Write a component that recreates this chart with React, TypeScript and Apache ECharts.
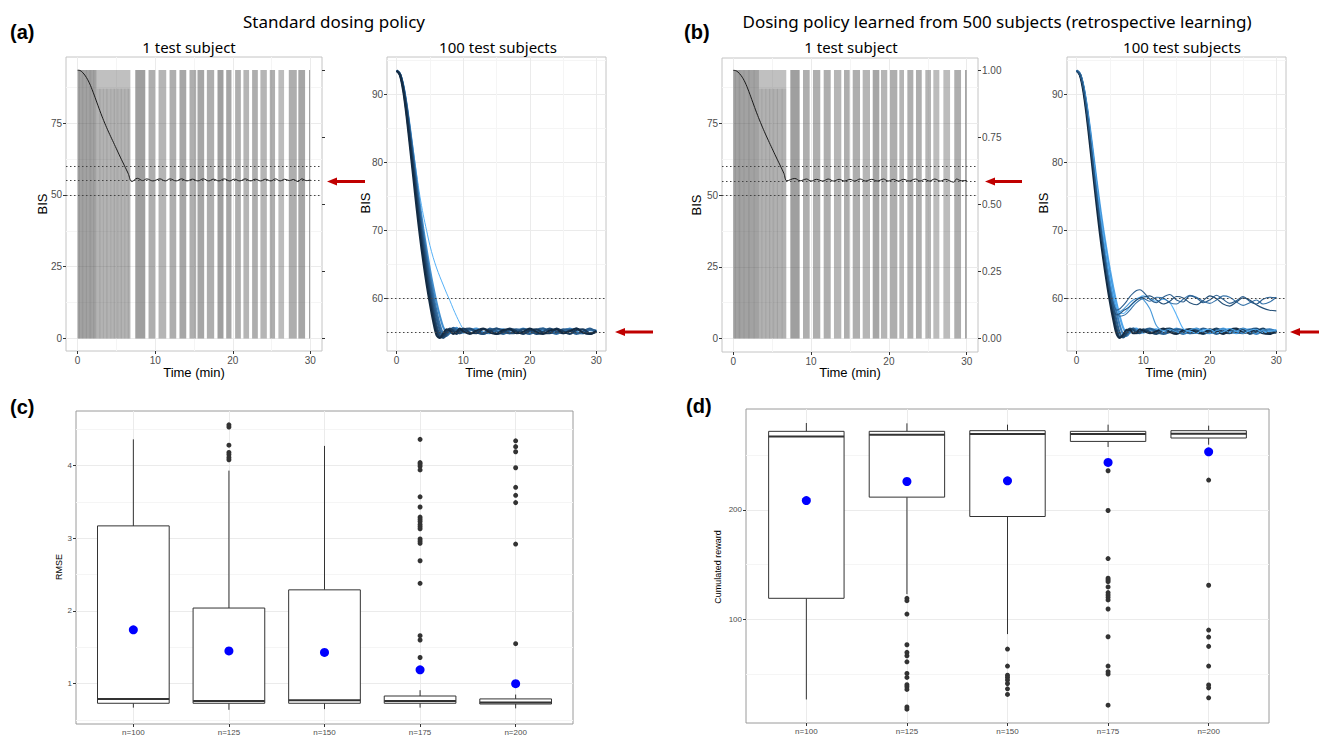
import React, { useEffect, useRef } from "react";
import * as echarts from "echarts";

// ---------------- DATA ----------------
const TIME_100 = [0, 0.5, 1, 1.5, 2, 2.5, 3, 3.5, 4, 4.5, 5, 5.5, 6, 6.5, 7, 7.5, 8, 8.5, 9, 9.5, 10, 11, 12, 13, 14, 15, 16, 17, 18, 19, 20, 21, 22, 23, 24, 25, 26, 27, 28, 29, 30];

// (a) 100 test subjects – standard policy
const A_LINE_COLORS = ["#56B1F7", "#4590CF", "#3673A9", "#2B5E8E", "#224B73", "#1A3A5A", "#132B43"];
const A_LINES = [
  [93.5, 93.0, 91.3, 88.6, 85.3, 81.8, 78.3, 75.0, 72.3, 70.0, 67.8, 66.0, 64.5, 63.2, 62.0, 60.8, 59.7, 58.5, 57.4, 56.4, 55.6,
    55.3, 55.5, 55.1, 55.0, 55.4, 55.3, 55.0, 55.2, 55.5, 55.1, 55.0, 55.4, 55.3, 54.9, 55.2, 55.5, 55.1, 55.0, 55.3, 55.2],
  [93.5, 93.0, 91.3, 88.5, 85.0, 81.2, 77.4, 73.7, 70.3, 67.2, 64.3, 61.7, 59.4, 57.4, 55.8, 55.0, 54.9, 55.4, 55.7, 55.3, 55.0,
    55.3, 55.6, 55.0, 54.9, 55.4, 55.5, 55.0, 55.1, 55.6, 55.2, 54.9, 55.3, 55.5, 55.0, 55.2, 55.6, 55.1, 54.9, 55.4, 55.2],
  [93.5, 93.0, 91.2, 88.3, 84.6, 80.7, 76.7, 72.9, 69.4, 66.2, 63.2, 60.5, 58.1, 56.1, 54.8, 54.5, 55.0, 55.6, 55.5, 55.0, 55.1,
    55.5, 55.2, 54.8, 55.3, 55.6, 55.1, 54.9, 55.4, 55.5, 54.9, 55.1, 55.6, 55.2, 54.8, 55.3, 55.5, 55.0, 54.9, 55.4, 55.3],
  [93.5, 93.0, 91.1, 88.1, 84.3, 80.2, 76.1, 72.2, 68.6, 65.3, 62.2, 59.5, 57.1, 55.3, 54.4, 54.6, 55.3, 55.7, 55.3, 54.9, 55.2,
    55.5, 55.0, 54.9, 55.6, 55.2, 54.8, 55.3, 55.5, 55.1, 54.8, 55.4, 55.6, 55.0, 54.9, 55.5, 55.3, 54.8, 55.2, 55.6, 55.1],
  [93.5, 93.0, 91.0, 87.8, 83.8, 79.6, 75.3, 71.3, 67.6, 64.2, 61.1, 58.4, 56.0, 54.6, 54.2, 54.8, 55.5, 55.4, 55.0, 54.9, 55.4,
    55.6, 55.1, 54.8, 55.2, 55.6, 55.3, 54.9, 55.0, 55.5, 55.4, 54.8, 55.1, 55.6, 55.2, 54.9, 55.3, 55.6, 55.0, 54.8, 55.3],
  [93.5, 92.9, 90.8, 87.3, 83.1, 78.8, 74.4, 70.3, 66.6, 63.2, 60.2, 57.5, 55.3, 54.3, 54.5, 55.2, 55.6, 55.2, 54.8, 55.3, 55.6,
    55.0, 54.9, 55.5, 55.3, 54.8, 55.1, 55.6, 55.2, 54.8, 55.3, 55.5, 55.0, 54.9, 55.6, 55.2, 54.8, 55.4, 55.5, 54.9, 55.1],
  [93.5, 92.8, 90.4, 86.7, 82.3, 77.8, 73.3, 69.1, 65.4, 62.1, 59.2, 56.6, 54.6, 54.2, 54.9, 55.5, 55.3, 54.8, 55.1, 55.6, 55.2,
    54.8, 55.3, 55.6, 55.0, 54.8, 55.4, 55.5, 54.9, 55.1, 55.6, 55.1, 54.8, 55.3, 55.5, 54.9, 55.2, 55.6, 55.0, 54.8, 55.2],
];

// (b) 100 test subjects – learned policy
const B_LINE_COLORS = ["#56B1F7", "#4FA5EA", "#4A9AD9", "#3B80BD", "#3673A9", "#2B5E8E", "#2A5F8F", "#245078", "#1D4466", "#132B43"];
const B_LINE_HIGH = [true, false, true, false, true, true, false, true, false, false];
const B_LINES = [
  [93.5, 93.0, 91.3, 88.4, 84.8, 80.8, 76.8, 73.0, 69.5, 66.3, 63.3, 60.7, 58.8, 58.0, 57.8, 58.2, 58.8, 59.3, 59.8, 60.2, 60.4,
    60.0, 59.6, 59.9, 59.4, 57.6, 55.6, 55.2, 54.9, 55.4, 55.5, 55.0, 55.1, 55.6, 55.2, 54.9, 55.3, 55.5, 55.0, 55.2, 55.4],
  [93.5, 93.0, 91.3, 88.5, 85.0, 81.2, 77.3, 73.6, 70.2, 67.1, 64.2, 61.6, 59.3, 57.3, 55.7, 55.0, 55.0, 55.5, 55.6, 55.2, 55.0,
    55.4, 55.5, 55.0, 55.1, 55.6, 55.2, 54.9, 55.3, 55.5, 55.0, 55.1, 55.6, 55.3, 54.9, 55.2, 55.5, 55.1, 55.0, 55.4, 55.3],
  [93.5, 93.0, 91.2, 88.2, 84.4, 80.3, 76.2, 72.3, 68.7, 65.4, 62.4, 59.9, 58.4, 58.1, 58.4, 58.9, 59.4, 59.8, 60.0, 60.1, 59.9,
    58.5, 56.0, 55.3, 55.5, 55.1, 54.9, 55.4, 55.6, 55.1, 54.9, 55.3, 55.5, 55.0, 55.2, 55.6, 55.1, 54.9, 55.4, 55.3, 55.2],
  [93.5, 93.0, 91.2, 88.3, 84.6, 80.6, 76.6, 72.8, 69.3, 66.1, 63.1, 60.4, 58.0, 56.0, 54.7, 54.5, 55.1, 55.6, 55.4, 55.0, 55.2,
    55.5, 55.0, 54.9, 55.5, 55.3, 54.8, 55.2, 55.6, 55.1, 54.9, 55.4, 55.5, 55.0, 55.1, 55.6, 55.2, 54.8, 55.3, 55.5, 55.1],
  [93.5, 93.0, 91.1, 88.0, 84.1, 79.9, 75.7, 71.7, 68.0, 64.7, 61.8, 59.4, 57.9, 57.4, 57.5, 57.8, 58.3, 58.9, 59.4, 59.8, 60.0,
    59.6, 60.2, 60.1, 59.4, 59.2, 59.9, 60.5, 60.2, 59.6, 59.3, 59.8, 60.4, 60.2, 59.5, 59.0, 59.4, 59.8, 59.2, 59.5, 60.2],
  [93.5, 93.0, 91.0, 87.8, 83.8, 79.6, 75.3, 71.3, 67.6, 64.3, 61.4, 59.3, 58.3, 58.5, 59.0, 59.6, 60.3, 60.8, 61.2, 61.3, 61.0,
    59.9, 59.4, 60.2, 60.6, 59.8, 59.5, 60.4, 60.1, 59.4, 59.8, 60.5, 59.9, 59.3, 59.7, 60.3, 59.6, 59.2, 59.9, 60.2, 60.1],
  [93.5, 93.0, 91.1, 88.0, 84.1, 79.9, 75.8, 71.9, 68.3, 65.0, 61.9, 59.1, 56.7, 54.9, 54.3, 54.7, 55.4, 55.6, 55.1, 54.9, 55.3,
    55.6, 55.2, 54.8, 55.1, 55.5, 55.4, 54.9, 55.0, 55.6, 55.3, 54.8, 55.2, 55.5, 55.1, 54.9, 55.4, 55.6, 55.0, 54.9, 55.3],
  [93.5, 92.9, 90.9, 87.6, 83.5, 79.2, 74.9, 70.9, 67.2, 63.8, 60.9, 58.6, 57.6, 57.8, 58.2, 58.5, 58.9, 59.4, 59.8, 60.1, 60.2,
    60.4, 59.8, 59.2, 59.6, 60.3, 60.1, 59.4, 59.1, 59.7, 60.4, 60.0, 59.2, 58.9, 59.5, 60.1, 59.8, 59.1, 58.6, 58.3, 58.2],
  [93.5, 92.9, 90.9, 87.5, 83.4, 79.1, 74.8, 70.8, 67.1, 63.7, 60.7, 57.9, 55.6, 54.4, 54.4, 55.0, 55.6, 55.4, 54.9, 55.1, 55.5,
    55.1, 54.8, 55.4, 55.6, 55.0, 54.9, 55.5, 55.3, 54.8, 55.2, 55.6, 55.1, 54.9, 55.4, 55.5, 54.8, 55.2, 55.6, 55.0, 55.0],
  [93.5, 92.8, 90.5, 86.9, 82.6, 78.1, 73.7, 69.5, 65.8, 62.5, 59.5, 56.9, 54.8, 54.2, 54.7, 55.4, 55.4, 54.9, 55.0, 55.5, 55.3,
    54.9, 55.2, 55.6, 55.1, 54.8, 55.3, 55.5, 55.0, 54.9, 55.5, 55.2, 54.8, 55.4, 55.6, 55.0, 55.1, 55.5, 54.9, 54.8, 55.3],
];

// 1 test subject – BIS trajectories
const A_ONE_T = [0, 0.3, 0.6, 1, 1.5, 2, 2.5, 3, 3.5, 4, 4.5, 5, 5.5, 6, 6.5, 7.0, 7.7, 8.4, 8.9, 9.7, 10.6, 11.3, 11.9, 12.7, 13.4, 14.1, 14.8, 15.5, 16.2, 16.9, 17.5, 18.2, 18.9, 19.6, 20.2, 20.9, 21.6, 22.3, 22.9, 23.6, 24.2, 24.9, 25.5, 26.1, 26.7, 27.3, 27.8, 28.4, 28.9, 29.5, 30];
const A_ONE_BIS = [93.5, 93.4, 92.8, 91.5, 89.1, 85.8, 82.1, 78.4, 75.0, 71.9, 69.0, 66.1, 63.2, 60.4, 57.6, 54.7, 55.8, 55.0, 55.6, 54.9, 55.6, 54.9, 55.6, 54.9, 55.6, 54.9, 55.5, 54.9, 55.6, 54.9, 55.5, 54.9, 55.6, 54.9, 55.5, 54.9, 55.6, 54.9, 55.5, 54.9, 55.5, 54.9, 55.6, 54.9, 55.5, 55.0, 55.4, 54.7, 55.6, 55.0, 55.2];
const B_ONE_T = [0, 0.3, 0.6, 1, 1.5, 2, 2.5, 3, 3.5, 4, 4.5, 5, 5.5, 6, 6.5, 6.9, 7.9, 8.6, 9.4, 10.0, 10.7, 11.5, 12.2, 12.9, 13.6, 14.3, 15.0, 15.6, 16.3, 17.0, 17.8, 18.5, 19.3, 19.9, 20.6, 21.2, 21.9, 22.6, 23.4, 24.0, 24.6, 25.2, 25.9, 26.6, 27.3, 27.8, 28.3, 28.7, 29.3, 30];
const B_ONE_BIS = [93.5, 93.4, 92.9, 91.7, 89.4, 86.1, 82.4, 78.7, 75.3, 72.1, 69.1, 66.2, 63.3, 60.5, 57.6, 55.0, 55.8, 55.0, 55.6, 54.9, 55.5, 54.9, 55.6, 54.9, 55.5, 54.9, 55.5, 54.9, 55.6, 54.9, 55.5, 54.9, 55.6, 54.9, 55.5, 54.9, 55.5, 54.9, 55.6, 54.9, 55.5, 54.9, 55.6, 54.9, 55.5, 55.0, 54.5, 55.6, 55.0, 55.1];

// dosing bars: [start (min), end (min), height on dose axis, opacity]
const A_DOSE_BARS = [
  [0, 2.45, 1, 0.5], [2.45, 6.8, 1, 0.34], [2.45, 6.8, 0.93, 0.1],
  [0.15, 0.3, 1, 0.12], [0.55, 0.75, 1, 0.1], [1.05, 1.2, 1, 0.12], [1.5, 1.75, 1, 0.1], [2.0, 2.15, 1, 0.12],
  [2.8, 2.95, 0.93, 0.14], [3.25, 3.4, 0.93, 0.1], [3.7, 3.85, 0.93, 0.14], [4.2, 4.35, 0.93, 0.1], [4.65, 4.8, 0.93, 0.14],
  [5.1, 5.25, 0.93, 0.1], [5.55, 5.7, 0.93, 0.14], [6.0, 6.15, 0.93, 0.1], [6.45, 6.6, 0.93, 0.14],
  [7.43, 8.72, 1, 0.52], [9.14, 10.0, 1, 0.44], [10.43, 11.42, 1, 0.4], [11.85, 12.71, 1, 0.44], [13.13, 14.0, 1, 0.48],
  [14.42, 15.28, 1, 0.44], [15.45, 16.31, 1, 0.48], [16.66, 17.6, 1, 0.44], [18.03, 18.8, 1, 0.52], [19.15, 19.83, 1, 0.48],
  [20.3, 21.04, 1, 0.44], [21.37, 22.1, 1, 0.4], [22.49, 23.23, 1, 0.44], [23.56, 24.39, 1, 0.4], [24.77, 25.45, 1, 0.44],
  [25.88, 26.61, 1, 0.36], [27.22, 28.25, 1, 0.44], [28.45, 29.32, 1, 0.48], [29.83, 29.96, 1, 0.52],
];
const B_DOSE_BARS = [
  [0, 3.3, 1, 0.5], [3.3, 6.81, 1, 0.34], [3.3, 6.81, 0.93, 0.12],
  [0.2, 0.35, 1, 0.1], [0.7, 0.9, 1, 0.12], [1.3, 1.45, 1, 0.1], [1.9, 2.1, 1, 0.12], [2.6, 2.75, 1, 0.1],
  [3.6, 3.75, 0.93, 0.12], [4.1, 4.25, 0.93, 0.1], [4.6, 4.75, 0.93, 0.14], [5.1, 5.25, 0.93, 0.1], [5.6, 5.75, 0.93, 0.14], [6.2, 6.35, 0.93, 0.12],
  [7.33, 8.53, 1, 0.52], [8.96, 9.82, 1, 0.44], [10.24, 11.18, 1, 0.44], [11.62, 12.52, 1, 0.44], [12.94, 13.88, 1, 0.4],
  [14.23, 14.96, 1, 0.44], [15.35, 16.29, 1, 0.44], [16.63, 17.57, 1, 0.4], [17.92, 18.77, 1, 0.48], [18.98, 19.79, 1, 0.4],
  [20.14, 21.08, 1, 0.44], [21.34, 21.94, 1, 0.4], [22.37, 23.14, 1, 0.44], [23.48, 24.22, 1, 0.44], [24.68, 25.41, 1, 0.4],
  [25.71, 26.48, 1, 0.36], [27.0, 27.86, 1, 0.36], [28.4, 29.27, 1, 0.44], [29.78, 30.0, 1, 0.48],
];
const DOSE_FULL_BIS = 93.6; // BIS value that matches a dose of 1.00

const A_REF_LINES = [60, 55, 50];
const B_REF_LINES = [60, 55];

// (c) / (d) boxplots: [lower whisker, Q1, median, Q3, upper whisker]
const BOX_CATEGORIES = ["n=100", "n=125", "n=150", "n=175", "n=200"];
const RMSE_BOX = [
  [0.67, 0.73, 0.79, 3.17, 4.36],
  [0.64, 0.73, 0.76, 2.04, 3.93],
  [0.65, 0.73, 0.77, 2.29, 4.27],
  [0.67, 0.73, 0.76, 0.83, 0.91],
  [0.66, 0.72, 0.74, 0.79, 0.85],
];
const RMSE_MEAN = [1.74, 1.45, 1.43, 1.19, 1.0];
const RMSE_OUTLIERS = [
  [],
  [4.56, 4.53, 4.28, 4.18, 4.15, 4.11, 4.08],
  [],
  [4.36, 4.04, 4.02, 3.99, 3.94, 3.57, 3.43, 3.29, 3.26, 3.23, 3.19, 3.16, 3.13, 2.99, 2.96, 2.93, 2.69, 2.38, 1.66, 1.6, 1.36],
  [4.34, 4.26, 4.19, 3.97, 3.7, 3.59, 3.49, 2.92, 1.55],
];
const REWARD_BOX = [
  [26.8, 119.2, 267.0, 271.7, 279.3],
  [123.0, 211.6, 268.6, 271.7, 279.0],
  [86.5, 193.9, 269.2, 272.3, 277.8],
  [257.4, 262.5, 269.2, 271.7, 277.8],
  [259.5, 265.6, 269.5, 272.3, 276.9],
];
const REWARD_MEAN = [208.5, 225.9, 226.5, 243.3, 253.0];
const REWARD_OUTLIERS = [
  [],
  [119.2, 117.0, 104.8, 76.8, 69.8, 66.7, 61.2, 50.6, 46.9, 40.2, 38.4, 36.0, 20.0, 17.9],
  [72.8, 57.3, 49.0, 46.9, 44.5, 41.4, 36.5, 31.4],
  [235.7, 199.4, 155.5, 137.5, 136.0, 134.4, 129.6, 124.4, 122.2, 120.1, 117.7, 109.4, 84.1, 57.3, 52.1, 50.0, 21.6],
  [227.2, 131.1, 90.2, 83.8, 75.3, 57.3, 40.0, 37.4, 28.3],
];

// tick values
const TIME_TICKS = [0, 10, 20, 30];
const TIME_MINOR = [5, 15, 25];
const BIS_ONE_TICKS = [0, 25, 50, 75];
const BIS_ONE_MINOR = [12.5, 37.5, 62.5, 87.5];
const BIS_100_TICKS = [60, 70, 80, 90];
const BIS_100_MINOR = [55, 65, 75, 85, 95];
const DOSE_TICKS = [0, 0.25, 0.5, 0.75, 1];
const RMSE_TICKS = [1, 2, 3, 4];
const RMSE_MINOR = [0.5, 1.5, 2.5, 3.5, 4.5];
const REWARD_TICKS = [100, 200];
const REWARD_MINOR = [50, 150, 250];
const CAT_TICKS = [0, 1, 2, 3, 4];

// ---------------- HELPERS ----------------
const FONT_TICK = "'Liberation Sans', Arial, sans-serif";
const FONT_TITLE = "'Noto Sans', 'Open Sans', sans-serif";

function mainAxis(gridIndex: number, min: number, max: number, position: string, majors: number[], fontSize: number, fmt?: (v: number) => string, showLabels = true, splitLine = true) {
  return {
    type: "value", gridIndex, min, max, position,
    axisLine: { show: false, onZero: false },
    axisTick: { show: true, customValues: majors, length: 3, lineStyle: { color: "#333", width: 1 } },
    axisLabel: { show: showLabels, customValues: majors, formatter: fmt, fontSize, color: "#4d4d4d", margin: 4, fontFamily: FONT_TICK },
    splitLine: { show: splitLine, lineStyle: { color: "#ebebeb", width: 1 } },
  };
}
function minorAxis(gridIndex: number, min: number, max: number, position: string, minors: number[]) {
  return {
    type: "value", gridIndex, min, max, position,
    axisLine: { show: false, onZero: false },
    axisTick: { show: false, customValues: minors },
    axisLabel: { show: false },
    splitLine: { show: true, lineStyle: { color: "#f5f5f5", width: 1 } },
  };
}

const barRender = (params: any, api: any) => {
  const p0 = api.coord([api.value(0), 0]);
  const p1 = api.coord([api.value(1), api.value(2)]);
  return {
    type: "rect",
    shape: { x: p0[0], y: p1[1], width: p1[0] - p0[0], height: p0[1] - p1[1] },
    style: { fill: `rgba(70,70,70,${api.value(3)})` },
  };
};

const boxRender = (params: any, api: any) => {
  const x = api.value(0);
  const pLo = api.coord([x, api.value(1)]);
  const pQ1 = api.coord([x, api.value(2)]);
  const pMed = api.coord([x, api.value(3)]);
  const pQ3 = api.coord([x, api.value(4)]);
  const pHi = api.coord([x, api.value(5)]);
  const w = api.size([0.75, 0])[0];
  const st = { stroke: "#333", lineWidth: 1, fill: null };
  return {
    type: "group",
    children: [
      { type: "line", shape: { x1: pHi[0], y1: pHi[1], x2: pQ3[0], y2: pQ3[1] }, style: st },
      { type: "line", shape: { x1: pQ1[0], y1: pQ1[1], x2: pLo[0], y2: pLo[1] }, style: st },
      { type: "rect", shape: { x: pQ3[0] - w / 2, y: pQ3[1], width: w, height: pQ1[1] - pQ3[1] }, style: { fill: "#fff", stroke: "#333", lineWidth: 1 } },
      { type: "line", shape: { x1: pMed[0] - w / 2, y1: pMed[1], x2: pMed[0] + w / 2, y2: pMed[1] }, style: { stroke: "#333", lineWidth: 2 } },
    ],
  };
};

const dotted = (values: number[]) => ({
  silent: true, symbol: ["none", "none"], label: { show: false }, animation: false,
  lineStyle: { color: "#444", type: [1.5, 2.5], width: 1 },
  data: values.map((v) => ({ yAxis: v })),
});

const txt = (x: number, y: number, text: string, font: string, rot = 0, align = "center") => ({
  type: "text", x, y, rotation: rot, silent: true, z: 20,
  style: { text, font, fill: "#000", textAlign: align, textVerticalAlign: "middle", align, verticalAlign: "middle" },
});

const arrow = (tipX: number, tailX: number, y: number) => [
  { type: "line", silent: true, z: 20, shape: { x1: tipX + 6, y1: y, x2: tailX, y2: y }, style: { stroke: "#c00000", lineWidth: 3 } },
  { type: "polygon", silent: true, z: 20, shape: { points: [[tipX, y], [tipX + 10, y - 4], [tipX + 10, y + 4]] }, style: { fill: "#c00000" } },
];

// ---------------- COMPONENT ----------------
export default function App() {
  const ref = useRef<HTMLDivElement>(null);

  useEffect(() => {
    if (!ref.current) return;
    const chart = echarts.init(ref.current, null, { renderer: "svg" });

    const A1Y: [number, number] = [-4.4, 98.1];
    const B1Y: [number, number] = [-4.7, 97.8];
    const Y100: [number, number] = [52.3, 95.5];
    const X1: [number, number] = [-1.5, 31.5];
    const X100: [number, number] = [-1.45, 31.45];
    const CX: [number, number] = [-0.6, 4.6];
    const RY: [number, number] = [0.445, 4.75];
    const DY: [number, number] = [5.3, 292.1];

    const grids = [
      { left: 66, top: 57, width: 256, height: 294, borderColor: "#c4c4c4" },
      { left: 387, top: 57, width: 219, height: 294, borderColor: "#c4c4c4" },
      { left: 722, top: 58, width: 256, height: 294, borderColor: "#c4c4c4" },
      { left: 1067, top: 57, width: 219, height: 294, borderColor: "#c4c4c4" },
      { left: 76, top: 411, width: 497, height: 313, borderColor: "#9a9a9a" },
      { left: 746, top: 409, width: 523, height: 314, borderColor: "#9a9a9a" },
    ].map((g) => ({ ...g, show: true, borderWidth: 1, backgroundColor: "#fff" }));

    const catFmt = (v: number) => BOX_CATEGORIES[Math.round(v)];
    const xAxis = [
      mainAxis(0, X1[0], X1[1], "bottom", TIME_TICKS, 10), // 0
      minorAxis(0, X1[0], X1[1], "bottom", TIME_MINOR), // 1
      mainAxis(1, X100[0], X100[1], "bottom", TIME_TICKS, 10), // 2
      minorAxis(1, X100[0], X100[1], "bottom", TIME_MINOR), // 3
      mainAxis(2, X100[0], X100[1], "bottom", TIME_TICKS, 10), // 4
      minorAxis(2, X100[0], X100[1], "bottom", TIME_MINOR), // 5
      mainAxis(3, X100[0], X100[1], "bottom", TIME_TICKS, 10), // 6
      minorAxis(3, X100[0], X100[1], "bottom", TIME_MINOR), // 7
      mainAxis(4, CX[0], CX[1], "bottom", CAT_TICKS, 8, catFmt), // 8
      mainAxis(5, CX[0], CX[1], "bottom", CAT_TICKS, 8, catFmt), // 9
    ];
    const doseFmt = (v: number) => v.toFixed(2);
    const yAxis = [
      mainAxis(0, A1Y[0], A1Y[1], "left", BIS_ONE_TICKS, 10), // 0
      minorAxis(0, A1Y[0], A1Y[1], "left", BIS_ONE_MINOR), // 1
      mainAxis(0, A1Y[0] / DOSE_FULL_BIS, A1Y[1] / DOSE_FULL_BIS, "right", DOSE_TICKS, 10, doseFmt, false, false), // 2
      mainAxis(1, Y100[0], Y100[1], "left", BIS_100_TICKS, 10), // 3
      minorAxis(1, Y100[0], Y100[1], "left", BIS_100_MINOR), // 4
      mainAxis(2, B1Y[0], B1Y[1], "left", BIS_ONE_TICKS, 10), // 5
      minorAxis(2, B1Y[0], B1Y[1], "left", BIS_ONE_MINOR), // 6
      mainAxis(2, B1Y[0] / DOSE_FULL_BIS, B1Y[1] / DOSE_FULL_BIS, "right", DOSE_TICKS, 10, doseFmt, true, false), // 7
      mainAxis(3, Y100[0], Y100[1], "left", BIS_100_TICKS, 10), // 8
      minorAxis(3, Y100[0], Y100[1], "left", BIS_100_MINOR), // 9
      mainAxis(4, RY[0], RY[1], "left", RMSE_TICKS, 8), // 10
      minorAxis(4, RY[0], RY[1], "left", RMSE_MINOR), // 11
      mainAxis(5, DY[0], DY[1], "left", REWARD_TICKS, 8), // 12
      minorAxis(5, DY[0], DY[1], "left", REWARD_MINOR), // 13
    ];

    const series: any[] = [];
    // (a) 1 subject
    series.push({ type: "custom", xAxisIndex: 0, yAxisIndex: 2, renderItem: barRender, data: A_DOSE_BARS, encode: { x: [0, 1], y: 2 }, z: 1, silent: true });
    series.push({
      type: "line", xAxisIndex: 0, yAxisIndex: 0, data: A_ONE_T.map((t, i) => [t, A_ONE_BIS[i]]), showSymbol: false, symbol: "none",
      smooth: 0.4, lineStyle: { color: "#1a1a1a", width: 1 }, z: 3, silent: true, markLine: dotted(A_REF_LINES),
    });
    // (a) 100 subjects
    A_LINES.forEach((vals, k) => series.push({
      type: "line", xAxisIndex: 2, yAxisIndex: 3, data: TIME_100.map((t, i) => [t, vals[i]]), showSymbol: false, symbol: "none",
      smooth: 0.3, lineStyle: { color: A_LINE_COLORS[k], width: k === 0 ? 1 : 2.1 }, z: 3, silent: true,
      ...(k === 0 ? { markLine: dotted(B_REF_LINES) } : {}),
    }));
    // (b) 1 subject
    series.push({ type: "custom", xAxisIndex: 4, yAxisIndex: 7, renderItem: barRender, data: B_DOSE_BARS, encode: { x: [0, 1], y: 2 }, z: 1, silent: true });
    series.push({
      type: "line", xAxisIndex: 4, yAxisIndex: 5, data: B_ONE_T.map((t, i) => [t, B_ONE_BIS[i]]), showSymbol: false, symbol: "none",
      smooth: 0.4, lineStyle: { color: "#1a1a1a", width: 1 }, z: 3, silent: true, markLine: dotted(A_REF_LINES),
    });
    // (b) 100 subjects
    B_LINES.forEach((vals, k) => series.push({
      type: "line", xAxisIndex: 6, yAxisIndex: 8, data: TIME_100.map((t, i) => [t, vals[i]]), showSymbol: false, symbol: "none",
      smooth: 0.3, lineStyle: { color: B_LINE_COLORS[k], width: B_LINE_HIGH[k] ? 1.1 : 2.1 }, z: B_LINE_HIGH[k] ? 4 : 3, silent: true,
      ...(k === 0 ? { markLine: dotted(B_REF_LINES) } : {}),
    }));
    // (c)
    series.push({ type: "custom", xAxisIndex: 8, yAxisIndex: 10, renderItem: boxRender, data: RMSE_BOX.map((b, i) => [i, ...b]), encode: { x: 0, y: [1, 2, 3, 4, 5] }, z: 2, silent: true });
    series.push({ type: "scatter", xAxisIndex: 8, yAxisIndex: 10, data: RMSE_OUTLIERS.flatMap((arr, i) => arr.map((v) => [i, v])), symbolSize: 5, itemStyle: { color: "#333", opacity: 1 }, z: 3, silent: true });
    series.push({ type: "scatter", xAxisIndex: 8, yAxisIndex: 10, data: RMSE_MEAN.map((v, i) => [i, v]), symbolSize: 9, itemStyle: { color: "#0000ff", opacity: 1 }, z: 4, silent: true });
    // (d)
    series.push({ type: "custom", xAxisIndex: 9, yAxisIndex: 12, renderItem: boxRender, data: REWARD_BOX.map((b, i) => [i, ...b]), encode: { x: 0, y: [1, 2, 3, 4, 5] }, z: 2, silent: true });
    series.push({ type: "scatter", xAxisIndex: 9, yAxisIndex: 12, data: REWARD_OUTLIERS.flatMap((arr, i) => arr.map((v) => [i, v])), symbolSize: 5, itemStyle: { color: "#333", opacity: 1 }, z: 3, silent: true });
    series.push({ type: "scatter", xAxisIndex: 9, yAxisIndex: 12, data: REWARD_MEAN.map((v, i) => [i, v]), symbolSize: 9, itemStyle: { color: "#0000ff", opacity: 1 }, z: 4, silent: true });

    const LAB = `bold 20px ${FONT_TICK}`;
    const TITLE = `17px ${FONT_TITLE}`;
    const SUB = `15px ${FONT_TITLE}`;
    const AX = `13px ${FONT_TICK}`;
    const AXS = `9px ${FONT_TICK}`;
    const R = Math.PI / 2;
    const graphic = [
      txt(10, 32, "(a)", LAB, 0, "left"),
      txt(684, 32, "(b)", LAB, 0, "left"),
      txt(10, 407, "(c)", LAB, 0, "left"),
      txt(686, 406, "(d)", LAB, 0, "left"),
      txt(334, 21, "Standard dosing policy", TITLE),
      txt(997, 21, "Dosing policy learned from 500 subjects (retrospective learning)", TITLE),
      txt(189, 47, "1 test subject", SUB),
      txt(498, 47, "100 test subjects", SUB),
      txt(851, 47, "1 test subject", SUB),
      txt(1182, 47, "100 test subjects", SUB),
      txt(42, 204, "BIS", AX, R),
      txt(365, 203, "BIS", AX, R),
      txt(696, 205, "BIS", AX, R),
      txt(1043, 203, "BIS", AX, R),
      txt(194, 372, "Time (min)", AX),
      txt(496, 372, "Time (min)", AX),
      txt(850, 372, "Time (min)", AX),
      txt(1176, 372, "Time (min)", AX),
      txt(59, 567, "RMSE", AXS, R),
      txt(718, 567, "Cumulated reward", AXS, R),
      ...arrow(327, 365, 181.5),
      ...arrow(615, 653, 332),
      ...arrow(985, 1022, 181.5),
      ...arrow(1290, 1319, 332),
    ];

    chart.setOption({
      animation: false,
      backgroundColor: "#fff",
      grid: grids,
      xAxis,
      yAxis,
      series,
      graphic,
    });
    return () => chart.dispose();
  }, []);

  return <div ref={ref} style={{ position: "fixed", left: 0, top: 0, width: 1319, height: 736, background: "#fff" }} />;
}
